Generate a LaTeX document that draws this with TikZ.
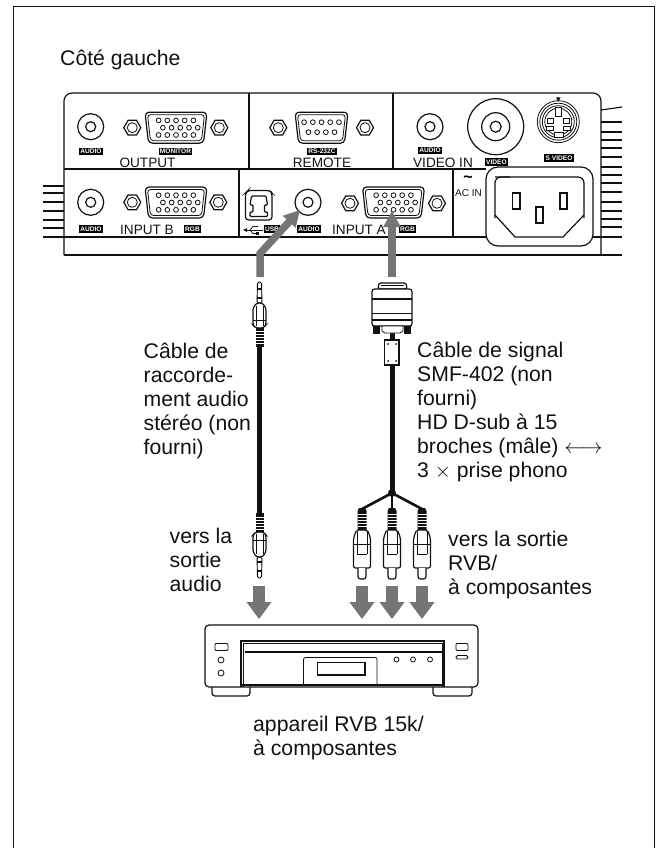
\documentclass[tikz,border=0pt]{standalone}
\usepackage{fontspec}
\setmainfont{Liberation Sans}
\usepackage{xcolor}
\definecolor{ArrowGray}{HTML}{757575}
\definecolor{InkBlack}{HTML}{111111}
\usepackage{tikz}
\usetikzlibrary{arrows.meta}

\tikzset{
  panelline/.style={line width=1.2pt, color=InkBlack},
  thinline/.style={line width=0.8pt, color=InkBlack},
  captiontext/.style={font=\fontsize{21.2}{24}\selectfont, anchor=north west, inner sep=0pt, align=left, color=InkBlack},
  paneltext/.style={font=\fontsize{13.6}{14}\selectfont, anchor=base, inner sep=0pt, color=InkBlack},
  blacklabel/.style={fill=black, text=white, font=\fontsize{6.6}{7}\selectfont\bfseries, inner xsep=1.2pt, inner ysep=0pt, minimum height=7.5pt},
  fatarrow/.style={draw=ArrowGray, line width=11.5pt, -{Triangle[length=17pt,width=24pt,fill=ArrowGray]}},
  slimarrow/.style={draw=ArrowGray, line width=7.5pt, -{Triangle[length=16pt,width=16.5pt,fill=ArrowGray]}},
  cable/.style={line width=5pt, color=InkBlack}
}

% helpers for the panel parts
\newcommand{\jackport}[2]{
  \draw[panelline] (#1,#2) circle (13pt);
  \draw[panelline] (#1,#2) circle (5pt);
}
\newcommand{\hexnut}[2]{
  \draw[panelline] (#1,#2) ++(0:8.5pt) -- ++(120:8.5pt) -- ++(180:8.5pt) -- ++(240:8.5pt) -- ++(300:8.5pt) -- ++(0:8.5pt) -- cycle;
  \draw[thinline] (#1,#2) circle (5pt);
}
\newcommand{\vgaport}[2]{
  \begin{scope}[shift={(#1,#2)}]
    \draw[panelline, rounded corners=4pt] (-31,-15.5) -- (31,-15.5) -- (27.5,15.5) -- (-27.5,15.5) -- cycle;
    \draw[thinline, rounded corners=3pt] (-28.5,-13) -- (28.5,-13) -- (25.5,13) -- (-25.5,13) -- cycle;
    \foreach \col in {-2,-1,0,1,2} {
      \draw[thinline] (\col*8.7,-7.3) circle (2.4pt);
      \draw[thinline] (\col*8.7+4.3,0) circle (2.4pt);
      \draw[thinline] (\col*8.7,7.3) circle (2.4pt);
    }
  \end{scope}
}
\newcommand{\jackplug}[3]{
  \begin{scope}[shift={(#1,#2)}, yscale=#3]
    \draw[line width=0.9pt, fill=white, rounded corners=1.5pt] (-2,0) -- (2,0) -- (2.5,21) -- (-2.5,21) -- cycle;
    \fill[InkBlack] (-2.5,6) rectangle (2.5,8);
    \fill[InkBlack] (-2.5,15) rectangle (2.5,17);
    \draw[panelline, fill=white, rounded corners=2.5pt] (-3,21) -- (3,21) -- (6.5,26) -- (6.5,43) -- (4,46) -- (-4,46) -- (-6.5,43) -- (-6.5,26) -- cycle;
    \draw[thinline] (-3.5,24) -- (-3.5,44);
    \draw[thinline] (3.5,24) -- (3.5,44);
    \draw[thinline] (-6.5,38) -- (6.5,38);
    \fill[InkBlack] (-4,46) rectangle (4,65);
    \foreach \rib in {49,52,55,58,61} {
      \draw[white, line width=0.5pt] (-4,\rib) -- (4,\rib);
    }
  \end{scope}
}
\newcommand{\rcaplug}[1]{
  \begin{scope}[shift={(#1,508)}]
    \fill[InkBlack] (-3,0) -- (3,0) -- (4.5,3) -- (4.5,22) -- (-4.5,22) -- (-4.5,3) -- cycle;
    \foreach \rib in {6,9,12,15,18} {
      \draw[white, line width=0.5pt] (-4.5,\rib) -- (4.5,\rib);
    }
    \draw[panelline, fill=white, rounded corners=2pt] (-5.5,22) -- (5.5,22) -- (8.5,30) -- (8.5,60) -- (-8.5,60) -- (-8.5,30) -- cycle;
    \draw[thinline] (-5,24) -- (-5,46);
    \draw[thinline] (5,24) -- (5,46);
    \draw[thinline] (-8.5,36) -- (8.5,36);
    \draw[thinline] (-5,46) -- (5,46);
    \draw[panelline, fill=white, rounded corners=2.5pt] (-4,60) -- (-4,71) -- (4,71) -- (4,60);
  \end{scope}
}

\begin{document}
\begin{tikzpicture}[x=1pt, y=-1pt]
  \useasboundingbox (0,0) rectangle (656,848);

  % Page frame
  \draw[line width=1.2pt, color=InkBlack] (13.5,848) -- (13.5,6.5) -- (654.5,6.5) -- (654.5,848);

  \node[captiontext] (sidetitle) at (60,49.5) {Côté gauche};

  % Draw panel body and dividers
  \draw[panelline, rounded corners=8pt] (64,255) -- (64,93) -- (601,93) -- (601,255);
  \draw[panelline] (64,255) -- (622,255);
  \draw[panelline] (64,169) -- (486,169);
  \draw[panelline] (249,93) -- (249,169);
  \draw[panelline] (393,93) -- (393,169);
  \draw[panelline] (239,169) -- (239,237);
  \draw[panelline] (453,169) -- (453,237);
  \draw[panelline] (43,237) -- (486,237);
  \draw[panelline] (593,237) -- (622,237);

  % Cooling fins
  \foreach \y in {186,193,202,211,220,228} {
    \draw[panelline] (43,\y) -- (64,\y);
  }
  \foreach \y in {122,132,140,148,157,167,175,183,192,202,211,219,227} {
    \draw[panelline] (601,\y) -- (622,\y);
  }
  \draw[panelline] (601,110) -- (622,107);

  % Top row of the panel
  \jackport{90.7}{126.7}
  \hexnut{132.3}{127.7}
  \vgaport{176}{127.7}
  \hexnut{219.3}{127.7}
  \node[blacklabel] (audioout) at (91,151.5) {AUDIO};
  \node[blacklabel] (monitor) at (175.5,151.5) {MONITOR};
  \node[paneltext] (output) at (147.5,167) {OUTPUT};

  \hexnut{278.3}{127.7}
  \hexnut{365}{127.7}
  \begin{scope}[shift={(321.5,127.7)}]
    \draw[panelline, rounded corners=4pt] (-26.5,-15.5) -- (26.5,-15.5) -- (23,15.5) -- (-23,15.5) -- cycle;
    \draw[thinline, rounded corners=3pt] (-24,-13) -- (24,-13) -- (21,13) -- (-21,13) -- cycle;
    \foreach \col in {-2,-1,0,1,2} {
      \draw[thinline] (\col*8.7,-5.5) circle (2.4pt);
    }
    \foreach \col in {-1.5,-0.5,0.5,1.5} {
      \draw[thinline] (\col*8.7,4.5) circle (2.4pt);
    }
  \end{scope}
  \node[blacklabel] (rsport) at (322,151.5) {RS-232C};
  \node[paneltext] (remote) at (322,167) {REMOTE};

  \jackport{430}{126.7}
  \node[blacklabel] (audiovideo) at (430,150.5) {AUDIO};
  \node[paneltext] (videoin) at (443,167) {VIDEO IN};
  \draw[panelline] (495.7,126.7) circle (28pt);
  \draw[panelline] (495.7,126.7) circle (14pt);
  \draw[panelline] (495.7,126.7) circle (5.5pt);
  \node[blacklabel] (videolabel) at (496.5,162) {VIDEO};

  % S video socket
  \foreach \r in {21,18.5,16,13.5} {
    \draw[thinline] (558.3,121.7) circle (\r pt);
  }
  \fill[InkBlack] (556,97.5) -- (560.5,97.5) -- (558.3,102) -- cycle;
  \draw[thinline, fill=white] (555.7,107) rectangle (561.7,116);
  \draw[thinline, fill=white] (547,118) rectangle (553,123);
  \draw[thinline, fill=white] (563.5,118) rectangle (569.5,123);
  \draw[thinline, fill=white] (546,126) rectangle (553,130);
  \draw[thinline, fill=white] (563.5,126) rectangle (570.5,130);
  \draw[thinline, fill=white] (554,132) rectangle (563,137);
  \node[blacklabel] (svideo) at (559,158) {S VIDEO};

  % Bottom row of the panel
  \jackport{90.7}{202.3}
  \hexnut{132.3}{202.3}
  \vgaport{176}{202.5}
  \hexnut{218.3}{202.3}
  \node[blacklabel] (audiob) at (91,229) {AUDIO};
  \node[paneltext] (inputb) at (147,234) {INPUT B};
  \node[blacklabel] (rgbb) at (192.5,229) {RGB};

  % USB socket
  \draw[panelline, rounded corners=3pt] (245.5,220) -- (245.5,193) -- (248,190.5) -- (270,190.5) -- (272,193) -- (272,220) -- cycle;
  \draw[panelline, rounded corners=1pt] (250,216.5) -- (250,212) -- (253,212) -- (253,205) -- (250,205) -- (251.5,196) -- (266,196) -- (267.5,205) -- (264.5,205) -- (264.5,212) -- (267.5,212) -- (267.5,216.5) -- cycle;
  \draw[thinline] (245,230) -- (263,230);
  \fill[InkBlack] (243,230) -- (247,228) -- (247,232) -- cycle;
  \draw[thinline] (250,230) -- (253,226.5) -- (258,226.5);
  \draw[thinline] (250,230) -- (253,233.5) -- (256,233.5);
  \fill[InkBlack] (256,232) rectangle (259,235);
  \node[blacklabel] (usblabel) at (272,229) {USB};

  \jackport{308}{202.3}
  \node[blacklabel] (audioa) at (309,229) {AUDIO};
  \hexnut{350}{203.3}
  \vgaport{393.5}{202.5}
  \hexnut{437}{203.3}
  \node[paneltext] (inputa) at (359,234) {INPUT A};
  \node[blacklabel] (rgba) at (407.5,229) {RGB};

  % Mains inlet
  \node[font=\fontsize{16}{16}\selectfont\bfseries, inner sep=0pt] (tilde) at (468,179) {\textasciitilde};
  \node[font=\fontsize{10}{10}\selectfont, anchor=base, inner sep=0pt, color=InkBlack] (acin) at (468.5,196) {AC IN};
  \draw[panelline, rounded corners=12pt] (486,246) -- (486,167) -- (593,167) -- (593,246) -- cycle;
  \draw[panelline, rounded corners=6pt] (495,177) -- (584,177) -- (584,218);
  \draw[panelline] (584,215) -- (563,237) -- (515,237) -- (495,215);
  \draw[panelline, rounded corners=6pt] (495,218) -- (495,177) -- (510,177);
  \draw[panelline] (512.7,193) rectangle (520,209);
  \draw[panelline] (560,193) rectangle (567,209);
  \draw[panelline] (536,207) rectangle (543,223);

  % Audio cable
  \coordinate (audiotop) at (259.5,282);
  \coordinate (audiobottom) at (259.5,578);
  \draw[cable] (259.5,340) -- (259.5,520);
  \jackplug{259.5}{282}{1}
  \jackplug{259.5}{578}{-1}

  % Signal cable with the D-sub shell
  \draw[cable] (392,330) -- (392,491);
  \draw[panelline, fill=white, rounded corners=1.5pt] (378,289) -- (379,283) -- (406,283) -- (407,289) -- cycle;
  \draw[thinline] (381,285.5) -- (404,285.5);
  \draw[panelline, fill=white, rounded corners=2.5pt] (372,289) rectangle (412,326);
  \draw[panelline] (372,299) -- (412,299);
  \draw[thinline] (372,313) -- (412,313);
  \draw[panelline] (372,320) -- (412,320);
  \fill[InkBlack] (373,326) rectangle (380,333.5);
  \fill[InkBlack] (404,326) rectangle (411,333.5);
  \draw[thinline, fill=white] (382,326) -- (403,326) -- (403,331) -- (400,333) -- (385,333) -- (382,331) -- cycle;
  \draw[panelline, fill=white] (384.5,340) rectangle (399,365);
  \foreach \px in {388,396} {
    \foreach \py in {344,361} {
      \fill[InkBlack] (\px,\py) circle (1pt);
    }
  }

  % Cable fork
  \coordinate (fork) at (392,493);
  \foreach \px in {362,392,422} {
    \draw[line width=2.6pt, color=InkBlack] (fork) -- (\px,509);
    \rcaplug{\px}
  }
  \fill[InkBlack] (fork) circle (4pt);

  % Player
  \draw[panelline, rounded corners=3pt] (212,680) -- (212,696) -- (250,696) -- (250,680);
  \draw[panelline, rounded corners=3pt] (433,680) -- (433,696) -- (472,696) -- (472,680);
  \draw[panelline, fill=white, rounded corners=4pt] (205,625) rectangle (478,687);
  \draw[panelline] (241,686.5) -- (241,641) -- (444,641) -- (444,686.5);
  \draw[thinline] (243.5,686.5) -- (243.5,643) -- (442.5,643) -- (442.5,686.5);
  \draw[panelline] (245,652) -- (443.5,652);
  \draw[panelline] (241,685) -- (444,685);
  \draw[thinline, rounded corners=2pt] (303.5,685) -- (303.5,657.5) -- (377,657.5) -- (377,685);
  \draw[panelline] (317.5,662.5) rectangle (365,675);
  \draw[line width=1.6pt, color=InkBlack] (317.5,675) -- (365,675);
  \foreach \px in {396.5,413,430} {
    \draw[thinline] (\px,659.5) circle (2.5pt);
  }
  \draw[thinline, rounded corners=1pt] (215,643.5) rectangle (228,650.5);
  \draw[thinline] (221,660) circle (3pt);
  \draw[thinline] (221,673) circle (3pt);
  \draw[thinline, rounded corners=1pt] (456,643.5) rectangle (468,650.5);
  \draw[thinline, rounded corners=1.5pt] (456,655.5) rectangle (468,659);

  % Gray direction arrows
  \coordinate (audioportend) at (300,210);
  \coordinate (vgaportend) at (392,211);
  \draw[slimarrow] (260,277) -- (260,253.5) -- (audioportend);
  \draw[slimarrow] (392,277) -- (vgaportend);
  \foreach \px in {259,362,392,422} {
    \draw[fatarrow] (\px,586) -- (\px,619);
  }

  % Captions
  \node[captiontext] (audiocap) at (143.5,342.5) {Câble de\\raccorde-\\ment audio\\stéréo (non\\fourni)};
  \node[captiontext] (signalcap) at (417,341.5) {Câble de signal\\SMF-402 (non\\fourni)\\HD D-sub à 15\\broches (mâle) $\longleftrightarrow$\\3 $\times$ prise phono};
  \node[captiontext] (audioside) at (169.5,527.5) {vers la\\sortie\\audio};
  \node[captiontext] (rgbside) at (448,530.5) {vers la sortie\\RVB/\\à composantes};
  \node[captiontext] (playercap) at (253,716) {appareil RVB 15k/\\à composantes};
\end{tikzpicture}
\end{document}
